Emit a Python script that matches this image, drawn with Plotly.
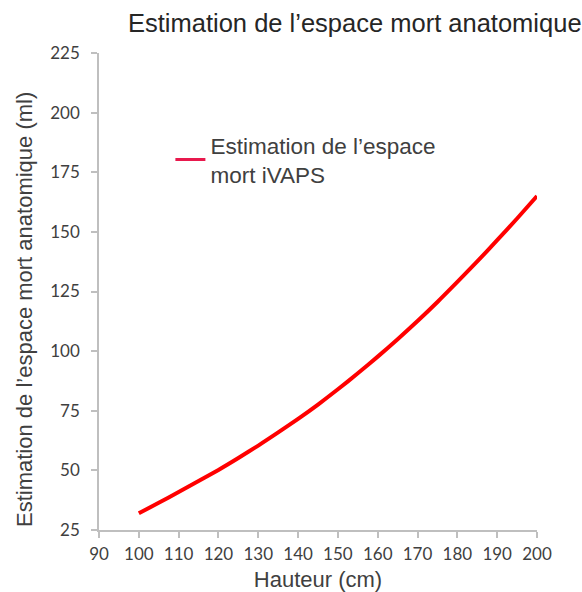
import plotly.graph_objects as go

# Estimated anatomical dead space (ml) versus height (cm)
hauteur_cm = [100, 105, 110, 115, 120, 125, 130, 135, 140, 145, 150,
              155, 160, 165, 170, 175, 180, 185, 190, 195, 200]
espace_mort_ml = [32, 36.4, 40.9, 45.5, 50.2, 55.2, 60.4, 65.9, 71.6, 77.6, 84,
                  90.7, 97.7, 105, 112.6, 120.6, 129, 137.6, 146.5, 155.6, 165]

x_ticks = [90, 100, 110, 120, 130, 140, 150, 160, 170, 180, 190, 200]
y_ticks = [25, 50, 75, 100, 125, 150, 175, 200, 225]

serie_nom = "Estimation de l’espace<br>mort iVAPS"
titre = "Estimation de l’espace mort anatomique"
titre_x = "Hauteur (cm)"
titre_y = "Estimation de l’espace mort anatomique (ml)"

courbe_couleur = "#ff0000"
legende_couleur = "#e8194d"
axe_couleur = "#bfbfbf"
texte_couleur = "#404040"
sans = "Liberation Sans"

W, H = 582, 592
M = dict(l=99, r=45, t=53, b=62)

fig = go.Figure()

fig.add_trace(go.Scatter(
    x=hauteur_cm, y=espace_mort_ml, mode="lines",
    line=dict(color=courbe_couleur, width=4, shape="spline", smoothing=0.6),
    showlegend=False, hoverinfo="x+y",
))

# legend entry for the series
fig.add_trace(go.Scatter(
    x=[None], y=[None], mode="lines", name=serie_nom,
    line=dict(color=legende_couleur, width=3),
))

tick_font = dict(family="Lato", size=17, color=texte_couleur)
title_font = dict(family=sans, size=22, color=texte_couleur)

# vertical axis title, placed slightly below the plot-area centre
plot_h = H - M["t"] - M["b"]
fig.add_annotation(
    text=titre_y, textangle=-90, showarrow=False,
    xref="paper", yref="paper",
    x=-(M["l"] - 24) / (W - M["l"] - M["r"]), xanchor="center",
    y=1 - (310 - M["t"]) / plot_h, yanchor="middle",
    font=title_font,
)

fig.update_layout(
    width=W, height=H,
    margin=M,
    paper_bgcolor="white", plot_bgcolor="white",
    title=dict(text=titre, font=dict(family=sans, size=25.5, color="#262626"),
               xref="container", yref="container",
               x=128 / W, xanchor="left",
               y=1 - 23 / H, yanchor="middle"),
    legend=dict(x=0.163, y=0.776, xanchor="left", yanchor="middle",
                font=dict(family=sans, size=22.5, color=texte_couleur),
                bgcolor="rgba(0,0,0,0)", borderwidth=0),
    xaxis=dict(range=[90, 200], tickvals=x_ticks, showgrid=False, zeroline=False,
               showline=True, linecolor=axe_couleur, linewidth=1.5,
               ticks="outside", ticklen=6, tickcolor=axe_couleur, tickwidth=1.5,
               tickfont=tick_font, ticklabelstandoff=2, automargin=False,
               title=dict(text=titre_x, font=title_font, standoff=10)),
    yaxis=dict(range=[25, 225], tickvals=y_ticks, showgrid=False, zeroline=False,
               showline=True, linecolor=axe_couleur, linewidth=1.5,
               ticks="outside", ticklen=6, tickcolor=axe_couleur, tickwidth=1.5,
               tickfont=tick_font, ticklabelstandoff=8, automargin=False),
)

fig.write_html("out.html")
